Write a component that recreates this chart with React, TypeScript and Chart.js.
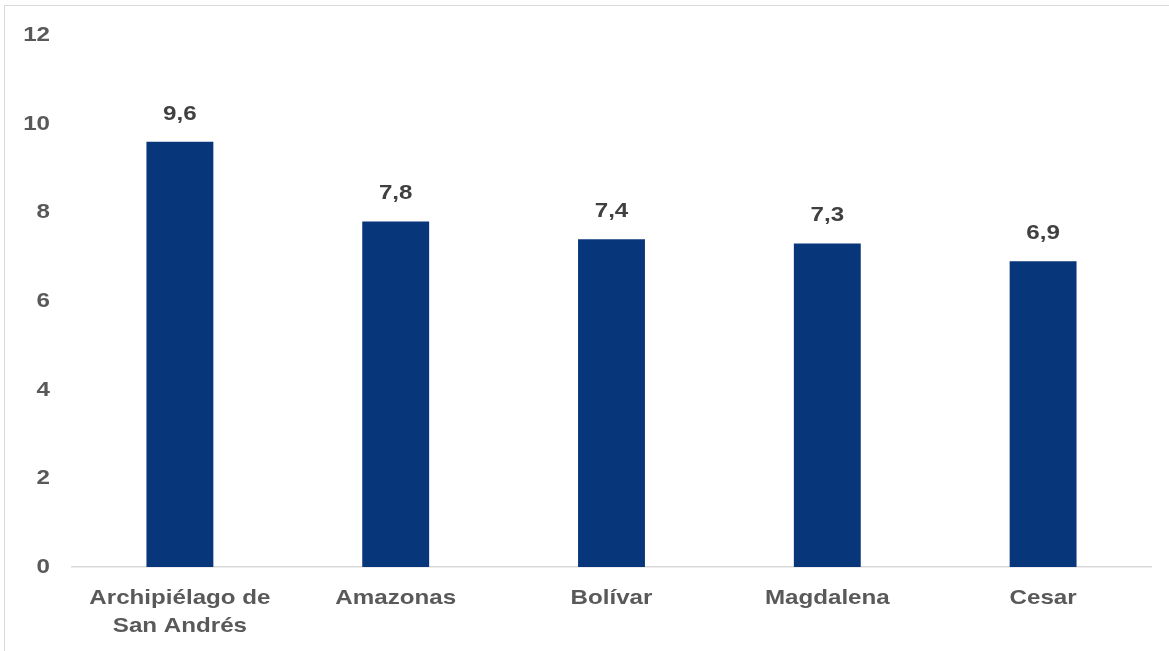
import React, { useEffect, useRef } from "react";
import { Chart, registerables } from "chart.js";

Chart.register(...registerables);

const categories: (string | string[])[] = [
  ["Archipiélago de", "San Andrés"],
  "Amazonas",
  "Bolívar",
  "Magdalena",
  "Cesar",
];
const values: number[] = [9.6, 7.8, 7.4, 7.3, 6.9];
const yTicks: number[] = [0, 2, 4, 6, 8, 10, 12];

const FONT = "'Liberation Sans', Arial, sans-serif";
const SX = 1.15;

function drawStretched(ctx: any, text: string, x: number, y: number, align: string) {
  ctx.save();
  ctx.translate(x, y);
  ctx.scale(SX, 1);
  ctx.textAlign = align;
  ctx.fillText(text, 0, 0);
  ctx.restore();
}

const textPlugin = {
  id: "stretchedText",
  afterDatasetsDraw(chart: any) {
    const ctx = chart.ctx;
    const meta = chart.getDatasetMeta(0);
    const xs = chart.scales.x;
    const ys = chart.scales.y;
    ctx.save();
    ctx.font = `bold 21px ${FONT}`;
    ctx.textBaseline = "middle";
    // value labels
    ctx.fillStyle = "#404040";
    meta.data.forEach((el: any, i: number) => {
      const txt = values[i].toFixed(1).replace(".", ",");
      drawStretched(ctx, txt, el.x, el.y - 28, "center");
    });
    // x labels
    ctx.fillStyle = "#595959";
    categories.forEach((c, i) => {
      const lines = Array.isArray(c) ? c : [c];
      const x = xs.getPixelForTick(i);
      lines.forEach((ln, j) => {
        drawStretched(ctx, ln, x, xs.top + 31 + j * 28, "center");
      });
    });
    // y labels
    yTicks.forEach((v) => {
      drawStretched(ctx, String(v), 50, ys.getPixelForValue(v), "right");
    });
    ctx.restore();
  },
};

export default function App() {
  const ref = useRef<HTMLCanvasElement>(null);
  useEffect(() => {
    if (!ref.current) return;
    const chart = new Chart(ref.current, {
      type: "bar",
      data: {
        labels: categories,
        datasets: [
          {
            data: values,
            backgroundColor: "#08367A",
            barPercentage: 0.31,
            categoryPercentage: 1,
          },
        ],
      },
      options: {
        animation: false,
        responsive: true,
        maintainAspectRatio: false,
        layout: { padding: { top: 21, right: 18, left: 0, bottom: 0 } },
        plugins: { legend: { display: false }, tooltip: { enabled: false } },
        scales: {
          x: {
            afterFit: (s: any) => {
              s.height = 84;
            },
            grid: { display: false, drawTicks: false },
            border: { display: true, color: "#D9D9D9", width: 1.5 },
            ticks: {
              color: "rgba(0,0,0,0)",
              font: { family: FONT, size: 19, weight: "bold", lineHeight: 1.25 },
              padding: 20,
              maxRotation: 0,
              autoSkip: false,
            },
          },
          y: {
            min: 0,
            max: 12,
            afterFit: (s: any) => {
              s.width = 72;
            },
            afterBuildTicks: (s: any) => {
              s.ticks = yTicks.map((v) => ({ value: v }));
            },
            grid: { display: false, drawTicks: false },
            border: { display: false },
            ticks: {
              color: "rgba(0,0,0,0)",
              font: { family: FONT, size: 19, weight: "bold" },
              padding: 24,
            },
          },
        },
      },
      plugins: [textPlugin],
    });
    return () => chart.destroy();
  }, []);

  return (
    <div
      style={{
        position: "fixed",
        left: 0,
        top: 0,
        width: 1169,
        height: 651,
        overflow: "hidden",
        background: "#fff",
      }}
    >
      <div
        style={{
          position: "absolute",
          left: 4,
          top: 5,
          width: 1300,
          height: 800,
          border: "1.5px solid #D9D9D9",
          boxSizing: "border-box",
        }}
      />
      <div
        style={{
          position: "absolute",
          left: 0,
          top: 0,
          width: 1169,
          height: 651,
        }}
      >
        <canvas ref={ref} />
      </div>
    </div>
  );
}
